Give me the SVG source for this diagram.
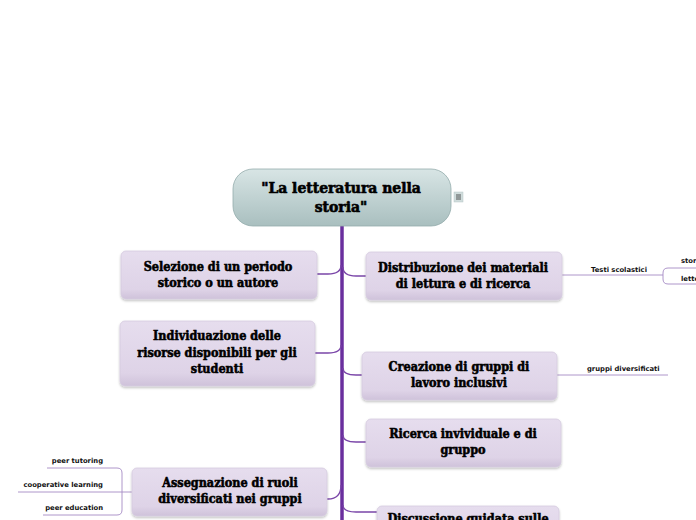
<svg xmlns="http://www.w3.org/2000/svg" width="696" height="520" viewBox="0 0 696 520">
<defs>
<linearGradient id="gc" x1="0" y1="0" x2="0" y2="1">
<stop offset="0" stop-color="#d8e5e5"/><stop offset="1" stop-color="#a9bfbf"/>
</linearGradient>
<linearGradient id="gn" x1="0" y1="0" x2="0" y2="1">
<stop offset="0" stop-color="#e6ddee"/><stop offset="0.8" stop-color="#ded3e7"/><stop offset="1" stop-color="#cfc2da"/>
</linearGradient>
<filter id="sh" x="-10%" y="-10%" width="120%" height="130%">
<feDropShadow dx="0" dy="1.5" stdDeviation="1.2" flood-color="#000" flood-opacity="0.25"/>
</filter>
</defs>
<style>
.node rect{fill:url(#gn);stroke:#d6cbe0;stroke-width:0.8;filter:url(#sh)}
.t{font-family:"DejaVu Serif",serif;font-weight:bold;font-stretch:condensed;font-size:12.5px;fill:#000;stroke:#000;stroke-width:0.55;text-anchor:middle}
.tc{font-family:"DejaVu Serif",serif;font-weight:bold;font-stretch:condensed;font-size:15.5px;fill:#000;stroke:#000;stroke-width:0.6;text-anchor:middle}
.s{font-family:"DejaVu Sans",sans-serif;font-weight:bold;font-size:6.8px;fill:#111}
.br{fill:none;stroke:#7a45a8;stroke-width:1.3}
.sub{fill:none;stroke:#a58ac4;stroke-width:0.9}
</style>
<g id="connectors">
<path d="M342,226 L342,520" stroke="#6a2f9e" stroke-width="3.5" fill="none"/>
<path class="br" d="M341,265 C341,272 336,274 328,274 L317,274"/>
<path class="br" d="M341,345 C341,351 336,353 328,353 L315,353"/>
<path class="br" d="M341,485 C341,495 336,499 328,499 L327,499"/>
<path class="br" d="M343,267 C343,274 348,276 356,276 L366,276"/>
<path class="br" d="M343,368 C343,373 348,375 356,375 L362,375"/>
<path class="br" d="M343,435 C343,440 348,442 356,442 L366,442"/>
<path class="br" d="M343,505 C343,510 348,512 356,512 L377,512"/>
<path class="sub" d="M562,275 L663,275"/>
<path class="sub" d="M696,268 L668,268 Q663,268 663,273 L663,279 Q663,284 668,284 L696,284"/>
<path class="sub" d="M557,375 L668,375"/>
<path class="sub" d="M132,492 L18,492"/>
<path class="sub" d="M47,468 L117,468 Q122,468 122,473 L122,510 Q122,515 117,515 L43,515"/>
</g>
<g id="center">
<rect x="233" y="169" width="218" height="57" rx="20" fill="url(#gc)" stroke="#94acac" stroke-width="0.8"/>
<text class="tc" x="341" y="193">"La letteratura nella</text>
<text class="tc" x="341" y="212">storia"</text>
<rect x="454" y="192" width="9" height="10" fill="#d0dcdc" stroke="#b8c8c8" stroke-width="0.5"/>
<path d="M456,195 h5 M456,197 h5 M456,199 h5" stroke="#333" stroke-width="0.8"/>
</g>
<g id="n1" class="node">
<rect x="121" y="251" width="196" height="48" rx="5"/>
<text class="t" x="218" y="271">Selezione di un periodo</text>
<text class="t" x="218" y="287">storico o un autore</text>
</g>
<g id="n2" class="node">
<rect x="120" y="321" width="195" height="65" rx="5"/>
<text class="t" x="217" y="340">Individuazione delle</text>
<text class="t" x="217" y="357">risorse disponibili per gli</text>
<text class="t" x="217" y="373">studenti</text>
</g>
<g id="n3" class="node">
<rect x="132" y="468" width="195" height="48" rx="5"/>
<text class="t" x="230" y="487">Assegnazione di ruoli</text>
<text class="t" x="230" y="503">diversificati nei gruppi</text>
</g>
<g id="n4" class="node">
<rect x="366" y="252" width="196" height="48" rx="5"/>
<text class="t" x="463" y="272">Distribuzione dei materiali</text>
<text class="t" x="463" y="288">di lettura e di ricerca</text>
</g>
<g id="n5" class="node">
<rect x="362" y="352" width="195" height="48" rx="5"/>
<text class="t" x="459" y="371">Creazione di gruppi di</text>
<text class="t" x="459" y="387">lavoro inclusivi</text>
</g>
<g id="n6" class="node">
<rect x="366" y="419" width="195" height="48" rx="5"/>
<text class="t" x="463" y="438">Ricerca invividuale e di</text>
<text class="t" x="463" y="454">gruppo</text>
</g>
<g id="n7" class="node">
<rect x="377" y="506" width="182" height="48" rx="5"/>
<text class="t" x="468" y="523">Discussione guidata sulle</text>
</g>
<g id="sub-testi"><text class="s" x="591" y="272">Testi scolastici</text></g>
<g id="sub-stor"><text class="s" x="681" y="263">storia</text></g>
<g id="sub-lett"><text class="s" x="681" y="281">letteratura</text></g>
<g id="sub-gruppi"><text class="s" x="587" y="371">gruppi diversificati</text></g>
<g id="sub-pt"><text class="s" x="103" y="463" text-anchor="end">peer tutoring</text></g>
<g id="sub-cl"><text class="s" x="103" y="487" text-anchor="end">cooperative learning</text></g>
<g id="sub-pe"><text class="s" x="103" y="510" text-anchor="end">peer education</text></g>
</svg>
